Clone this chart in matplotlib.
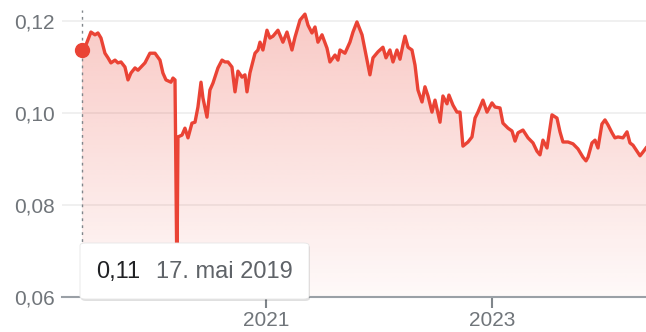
import numpy as np
import matplotlib
matplotlib.use("Agg")
import matplotlib.pyplot as plt
from matplotlib.patches import FancyBboxPatch, Polygon

plt.rcParams["font.family"] = ["Liberation Sans", "DejaVu Sans"]

# Price history (decimal year, price)
years = [
    2019.372, 2019.407, 2019.451, 2019.487, 2019.513, 2019.540, 2019.575, 2019.602,
    2019.628, 2019.664, 2019.690, 2019.717, 2019.752, 2019.779, 2019.805, 2019.841,
    2019.867, 2019.894, 2019.929, 2019.973, 2020.018, 2020.062, 2020.088, 2020.115,
    2020.159, 2020.177, 2020.195, 2020.212, 2020.221, 2020.257, 2020.283, 2020.310,
    2020.345, 2020.372, 2020.398, 2020.425, 2020.442, 2020.478, 2020.504, 2020.531,
    2020.575, 2020.611, 2020.637, 2020.664, 2020.699, 2020.726, 2020.752, 2020.788,
    2020.814, 2020.832, 2020.858, 2020.903, 2020.929, 2020.947, 2020.973, 2021.009,
    2021.035, 2021.062, 2021.106, 2021.150, 2021.186, 2021.230, 2021.257, 2021.301,
    2021.345, 2021.372, 2021.407, 2021.434, 2021.460, 2021.496, 2021.540, 2021.566,
    2021.611, 2021.637, 2021.655, 2021.699, 2021.743, 2021.770, 2021.805, 2021.850,
    2021.894, 2021.920, 2021.947, 2021.991, 2022.035, 2022.062, 2022.097, 2022.124,
    2022.159, 2022.186, 2022.212, 2022.230, 2022.257, 2022.292, 2022.319, 2022.345,
    2022.381, 2022.407, 2022.434, 2022.469, 2022.496, 2022.540, 2022.566, 2022.602,
    2022.619, 2022.655, 2022.690, 2022.717, 2022.743, 2022.788, 2022.823, 2022.850,
    2022.876, 2022.920, 2022.956, 2023.000, 2023.027, 2023.071, 2023.097, 2023.142,
    2023.177, 2023.204, 2023.230, 2023.274, 2023.319, 2023.363, 2023.398, 2023.425,
    2023.451, 2023.487, 2023.531, 2023.575, 2023.602, 2023.628, 2023.673, 2023.717,
    2023.761, 2023.805, 2023.832, 2023.850, 2023.885, 2023.912, 2023.938, 2023.973,
    2024.000, 2024.027, 2024.062, 2024.088, 2024.115, 2024.159, 2024.195, 2024.221,
    2024.248, 2024.283, 2024.310, 2024.336, 2024.363,
]
prices = [
    0.1137, 0.1148, 0.1176, 0.1170, 0.1174, 0.1163, 0.1130, 0.1120,
    0.1109, 0.1115, 0.1109, 0.1111, 0.1100, 0.1072, 0.1087, 0.1098,
    0.1093, 0.1100, 0.1109, 0.1130, 0.1130, 0.1115, 0.1087, 0.1072,
    0.1067, 0.1076, 0.1072, 0.0640, 0.0948, 0.0952, 0.0967, 0.0946,
    0.0978, 0.0980, 0.1013, 0.1067, 0.1033, 0.0991, 0.1050, 0.1065,
    0.1098, 0.1115, 0.1111, 0.1111, 0.1100, 0.1046, 0.1091, 0.1078,
    0.1083, 0.1046, 0.1087, 0.1130, 0.1137, 0.1154, 0.1137, 0.1180,
    0.1163, 0.1167, 0.1180, 0.1154, 0.1176, 0.1137, 0.1165, 0.1202,
    0.1215, 0.1191, 0.1174, 0.1187, 0.1154, 0.1170, 0.1141, 0.1111,
    0.1126, 0.1115, 0.1137, 0.1130, 0.1154, 0.1176, 0.1198, 0.1170,
    0.1115, 0.1083, 0.1120, 0.1133, 0.1143, 0.1120, 0.1137, 0.1111,
    0.1137, 0.1117, 0.1148, 0.1167, 0.1143, 0.1137, 0.1104, 0.1050,
    0.1024, 0.1057, 0.1037, 0.1002, 0.1028, 0.0980, 0.1037, 0.1020,
    0.1039, 0.1017, 0.1002, 0.1002, 0.0928, 0.0937, 0.0948, 0.0989,
    0.1002, 0.1028, 0.1002, 0.1022, 0.1013, 0.1011, 0.0978, 0.0967,
    0.0961, 0.0939, 0.0957, 0.0963, 0.0946, 0.0935, 0.0917, 0.0909,
    0.0941, 0.0924, 0.0996, 0.0989, 0.0959, 0.0937, 0.0937, 0.0933,
    0.0922, 0.0904, 0.0896, 0.0904, 0.0935, 0.0941, 0.0924, 0.0976,
    0.0985, 0.0974, 0.0957, 0.0946, 0.0948, 0.0946, 0.0959, 0.0935,
    0.0930, 0.0917, 0.0907, 0.0915, 0.0924,
]
y_ticks = [0.06, 0.08, 0.10, 0.12]
y_labels = ["0,06", "0,08", "0,10", "0,12"]
x_ticks = [2021, 2023]
x_labels = ["2021", "2023"]
tip_value = "0,11"
tip_date = "17. mai 2019"

RED = "#ea4335"
GREY = "#70757a"

W, H = 646, 332
fig = plt.figure(figsize=(W / 100, H / 100), dpi=100)
ax = fig.add_axes([62 / W, 35 / H, 584 / W, 297 / H])

x0, x1 = 2019.195, 2024.363
y0, y1 = 0.06, 0.12457
ax.set_xlim(x0, x1)
ax.set_ylim(y0, y1)

# gridlines
for v in y_ticks[1:]:
    ax.axhline(v, color="#eeeeee", lw=1.2, zorder=0)
ax.axhline(0.06, color="#9aa0a6", lw=1.5, zorder=5, clip_on=False)

# gradient fill under the line
xs = np.array(years)
ps = np.array(prices)
grad = np.zeros((256, 1, 4))
r, g, b, _ = matplotlib.colors.to_rgba(RED)
grad[..., 0], grad[..., 1], grad[..., 2] = r, g, b
grad[:, 0, 3] = np.linspace(0.30, 0.03, 256)
im = ax.imshow(grad, extent=[x0, x1, y0, y1], aspect="auto", origin="upper",
               zorder=1, interpolation="bilinear")
poly = Polygon(np.column_stack([np.r_[xs[0], xs, xs[-1]], np.r_[y0, ps, y0]]),
               closed=True, facecolor="none", edgecolor="none",
               transform=ax.transData)
ax.add_patch(poly)
im.set_clip_path(poly)

ax.plot(xs, ps, color=RED, lw=2.4, zorder=3, solid_joinstyle="round")
ax.axvline(xs[0], ymin=0, ymax=(0.1224 - y0) / (y1 - y0), color="#80868b",
           lw=1.0, ls=(0, (2, 3)), zorder=2)
ax.plot(xs[0], ps[0], "o", color=RED, ms=10, zorder=4, clip_on=False)

ax.set_yticks(y_ticks)
ax.set_yticklabels(y_labels)
ax.set_xticks(x_ticks)
ax.set_xticklabels(x_labels)
ax.tick_params(axis="y", length=0, pad=5, labelsize=15, labelcolor=GREY)
ax.tick_params(axis="x", length=8, width=1.5, color="#80868b", pad=2,
               labelsize=15, labelcolor=GREY)
for s in ax.spines.values():
    s.set_visible(False)

# tooltip box
bx, by, bw, bh = 80, 243, 229, 56
shadow = FancyBboxPatch(((bx + 1) / W, (H - by - bh - 2) / H), bw / W, bh / H,
                        boxstyle="round,pad=0,rounding_size=0.008",
                        transform=fig.transFigure, facecolor="#000000",
                        alpha=0.12, edgecolor="none", zorder=9)
box = FancyBboxPatch((bx / W, (H - by - bh) / H), bw / W, bh / H,
                     boxstyle="round,pad=0,rounding_size=0.008",
                     transform=fig.transFigure, facecolor="white",
                     edgecolor="#e6e6e6", lw=0.6, zorder=10)
fig.patches.extend([shadow, box])
fig.text(96 / W, (H - 272) / H, tip_value, fontsize=17, color="#202124",
         va="center", ha="left", zorder=11)
fig.text(156 / W, (H - 272) / H, tip_date, fontsize=17, color="#5f6368",
         va="center", ha="left", zorder=11)

fig.savefig("out.png", dpi=100)
